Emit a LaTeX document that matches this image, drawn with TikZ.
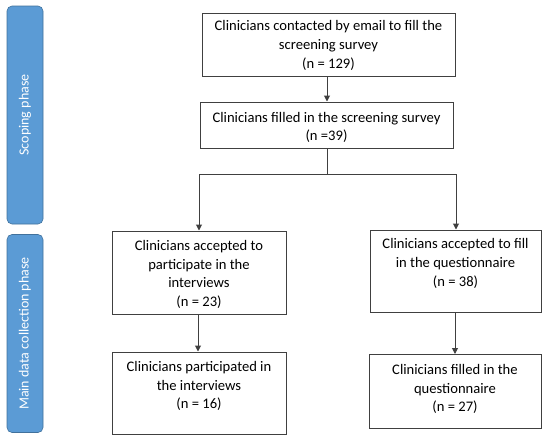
\documentclass[tikz,border=0pt]{standalone}
\usepackage{fontspec}
\setmainfont{Carlito}
\usetikzlibrary{arrows.meta}
\definecolor{phasefill}{HTML}{5B9BD5}
\definecolor{phaseline}{HTML}{41719C}
\definecolor{lc}{HTML}{404040}
\begin{document}
\begin{tikzpicture}[x=1pt,y=-1pt,
  box/.style={draw=lc,line width=1pt,fill=white,inner sep=0pt},
  txt/.style={align=center,font=\fontsize{14.6}{18.6}\selectfont,text=black,inner sep=0pt},
  phase/.style={draw=phaseline,line width=0.6pt,fill=phasefill,rounded corners=5pt,inner sep=0pt},
  phtxt/.style={rotate=90,text=white,font=\fontsize{14}{16}\selectfont,inner sep=0pt},
  arr/.style={draw=lc,line width=1pt,-{Triangle[width=6pt,length=6pt]}},
  ln/.style={draw=lc,line width=1pt}]
\useasboundingbox (0,0) rectangle (550,442);
% phase bars
\node[phase,minimum width=36pt,minimum height=218pt] (p1) at (25,115) {};
\node[phtxt] (p1t) at (p1.center) {Scoping phase};
\node[phase,minimum width=36pt,minimum height=198pt] (p2) at (25,333.5) {};
\node[phtxt] (p2t) at (p2.center) {Main data collection phase};
% boxes
\node[box,minimum width=253pt,minimum height=63pt] (A) at (328.5,44.5) {};
\node[txt] (At) at ([yshift=-1pt]A.center) {Clinicians contacted by email to fill the\\screening survey\\(n = 129)};
\node[box,minimum width=253pt,minimum height=46pt] (B) at (326.5,125) {};
\node[txt] (Bt) at ([yshift=-2.5pt]B.center) {Clinicians filled in the screening survey\\(n =39)};
\node[box,minimum width=174pt,minimum height=83pt] (C) at (199,272.5) {};
\node[txt] (Ct) at ([yshift=-2pt]C.center) {Clinicians accepted to\\participate in the\\interviews\\(n = 23)};
\node[box,minimum width=174pt,minimum height=82pt] (D) at (199,393) {};
\node[txt] (Dt) at ([yshift=7pt]D.center) {Clinicians participated in\\the interviews\\(n = 16)};
\node[box,minimum width=171pt,minimum height=82pt] (E) at (455.5,271) {};
\node[txt] (Et) at ([yshift=7.5pt]E.center) {Clinicians accepted to fill\\in the questionnaire\\(n = 38)};
\node[box,minimum width=172pt,minimum height=74pt] (F) at (455,391.5) {};
\node[txt] (Ft) at ([yshift=2.5pt]F.center) {Clinicians filled in the\\questionnaire\\(n = 27)};
% connectors
\coordinate (split) at (327,174);
\coordinate (sl) at (199,174);
\coordinate (sr) at (456,174);
\draw[arr] (A.south -| 327,0) -- (B.north -| 327,0);
\draw[ln] (B.south -| split) -- (split);
\draw[ln] (sl) -- (sr);
\draw[arr] (sl) -- (C.north -| sl);
\draw[arr] (sr) -- (E.north -| sr);
\draw[arr] (C.south -| 198,0) -- (D.north -| 198,0);
\draw[arr] (E.south -| 455,0) -- (F.north -| 455,0);
\end{tikzpicture}
\end{document}
